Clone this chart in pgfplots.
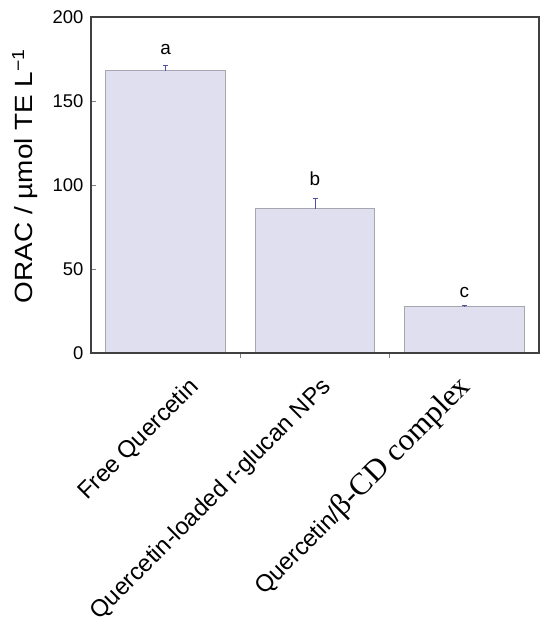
\documentclass[border=0pt]{standalone}
\usepackage{pgfplots}
\pgfplotsset{compat=1.18}
\usepackage{fontspec}
\setmainfont{Liberation Sans}
\newfontfamily\timesfont{Liberation Serif}
\definecolor{barfill}{HTML}{E0DFEF}
\definecolor{baredge}{HTML}{A6A6B0}
\definecolor{errcol}{HTML}{5050A8}
\definecolor{axiscol}{HTML}{404040}
\begin{document}
\begin{tikzpicture}
\begin{axis}[
  scale only axis, width=448bp, height=336bp,
  xmin=-0.5, xmax=2.5, ymin=0, ymax=200,
  clip=false, axis on top,
  axis line style={axiscol, line width=1.3bp},
  tick style={color=gray, line width=0.7bp},
  major tick length=5bp,
  xtick pos=bottom, ytick pos=left,
  ytick={0,50,100,150,200},
  yticklabel style={font=\fontsize{18.5}{20}\selectfont, xshift=-4bp},
  /pgf/number format/assume math mode=true,
  xtick={0.5,1.5},
  xticklabels={},
  extra x ticks={0.230,1.114,2.051},
  extra x tick labels={Free Quercetin, Quercetin-loaded r-glucan NPs, {Quercetin/{\timesfont\fontsize{31}{33}\selectfont β-CD complex}}},
  extra x tick style={major tick length=0pt,
    xticklabel style={font=\fontsize{24}{26}\selectfont, yshift=-35bp, rotate=45, anchor=base east, inner sep=0pt}},
  ylabel={ORAC / µmol TE L\textsuperscript{\char"2212 1}},
  ylabel style={font=\fontsize{25}{27}\selectfont, at={([xshift=-58bp]axis description cs:0,0.527)}, anchor=base, xscale=1.12},
  ybar, bar width=0.8,
]
\addplot[ybar, fill=barfill, draw=baredge, line width=1bp,
  error bars/.cd, y dir=plus, y explicit,
  error bar style={errcol, line width=1bp},
  error mark options={errcol, rotate=90, mark size=2.5bp, line width=1bp}]
  coordinates {(0,168) +- (0,3.3) (1,86) +- (0,5.7) (2,27.6) +- (0,0.4)};
\node[font=\fontsize{19}{20}\selectfont, anchor=base] at (axis cs:0,177.4) {a};
\node[font=\fontsize{19}{20}\selectfont, anchor=base] at (axis cs:1,99.6) {b};
\node[font=\fontsize{19}{20}\selectfont, anchor=base] at (axis cs:2,33.2) {c};
\end{axis}
\path (current axis.south west) ++(-91bp,-275bp) rectangle ([xshift=11bp,yshift=17bp]current axis.north east);
\end{tikzpicture}
\end{document}
